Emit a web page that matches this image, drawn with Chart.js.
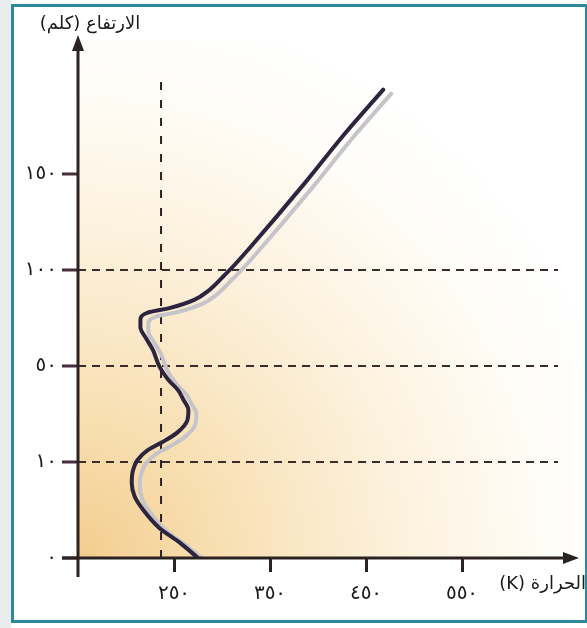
<!DOCTYPE html>
<html>
<head>
<meta charset="utf-8">
<script src="https://cdn.jsdelivr.net/npm/chart.js@4.4.1/dist/chart.umd.min.js"></script>
<style>
  html, body { margin: 0; padding: 0; background: #fff; }
  canvas { display: block; }
</style>
</head>
<body>
<canvas id="myChart" width="587" height="628"></canvas>
<script>
// temperature profile (altitude km / temperature K)
const altitudeKm = [0, 1.6, 3.1, 5, 6.4, 7.8, 9, 10.8, 15, 18.3, 22.1, 27.5, 31.7, 35.8, 40, 44.2, 49.6, 58.3, 63.5, 70.3, 74, 77.6, 80.2, 84.4, 89.6, 96.4, 102, 111.5, 145, 170.3, 193.8];
const temperatureK = [275, 256, 235, 218, 209, 206, 207, 212, 223, 238, 253, 264, 265, 260, 254, 244, 235, 228, 222, 215, 215, 222, 246, 271, 287, 301, 312, 329, 386, 427, 468];

// vertical dashed reference line
const refTempK = [236.5, 236.5];
const refAltKm = [0, 201];

const yTicks = [0, 10, 50, 100, 150];
const xTicks = [250, 350, 450, 550];
const dashedAlts = [10, 50, 100];

// the altitude axis is not linear: each labelled step gets the same height
const yBreaks = [0, 10, 50, 100, 150, 200];

function kmToUnits(v) {
  for (let i = 1; i < yBreaks.length; i++) {
    if (v <= yBreaks[i] || i === yBreaks.length - 1) {
      return (i - 1) + (v - yBreaks[i - 1]) / (yBreaks[i] - yBreaks[i - 1]);
    }
  }
}
function unitsToKm(u) {
  let i = Math.min(Math.max(Math.floor(u), 0), yBreaks.length - 2);
  return yBreaks[i] + (u - i) * (yBreaks[i + 1] - yBreaks[i]);
}

const Linear = Chart.LinearScale || Chart.registry.getScale('linear');
class BrokenScale extends Linear {
  getPixelForValue(v) {
    return this.getPixelForDecimal(kmToUnits(v) / kmToUnits(this.max));
  }
  getValueForPixel(p) {
    return unitsToKm(this.getDecimalForPixel(p) * kmToUnits(this.max));
  }
}
BrokenScale.id = 'broken';
BrokenScale.defaults = Linear.defaults;
Chart.register(BrokenScale);

const arabicDigits = '٠١٢٣٤٥٦٧٨٩';
function toArabic(n) {
  return String(n).replace(/\d/g, d => arabicDigits[d]);
}

const axisColor = '#2b2222';

const backdrop = {
  id: 'backdrop',
  beforeDraw(chart) {
    const ctx = chart.ctx;
    const a = chart.chartArea;
    ctx.save();
    ctx.fillStyle = '#ffffff';
    ctx.fillRect(0, 0, chart.width, chart.height);
    ctx.fillStyle = '#e9eded';
    ctx.fillRect(0, 0, 11, chart.height);
    // warm glow from lower left
    const g = ctx.createRadialGradient(a.left, a.bottom, 0, a.left, a.bottom, 560);
    g.addColorStop(0, '#f3cd8e');
    g.addColorStop(0.25, '#f8dfb2');
    g.addColorStop(0.55, '#fcf0da');
    g.addColorStop(0.85, '#fffdf8');
    g.addColorStop(1, '#ffffff');
    ctx.fillStyle = g;
    ctx.fillRect(a.left, 40, 586 - a.left, a.bottom - 40);
    // teal frame
    ctx.strokeStyle = '#2e8a9a';
    ctx.lineWidth = 3;
    ctx.strokeRect(12.5, 5.5, 574, 616);
    ctx.restore();
  }
};

const lineShadow = {
  id: 'lineShadow',
  beforeDatasetDraw(chart, args) {
    if (args.index !== 0) return;
    const ctx = chart.ctx;
    ctx.save();
    ctx.shadowColor = 'rgba(196,196,202,1)';
    ctx.shadowOffsetX = 8;
    ctx.shadowOffsetY = 4;
    ctx.shadowBlur = 0;
  },
  afterDatasetDraw(chart, args) {
    if (args.index !== 0) return;
    chart.ctx.restore();
  }
};

const axesAndTitles = {
  id: 'axesAndTitles',
  afterDraw(chart) {
    const ctx = chart.ctx;
    const a = chart.chartArea;
    const x0 = a.left, y0 = a.bottom;
    ctx.save();
    ctx.strokeStyle = axisColor;
    ctx.fillStyle = axisColor;
    ctx.lineWidth = 3;
    // y axis
    ctx.beginPath();
    ctx.moveTo(x0, y0 + 19);
    ctx.lineTo(x0, 50);
    ctx.stroke();
    ctx.beginPath();
    ctx.moveTo(x0, 35);
    ctx.lineTo(x0 - 6, 51);
    ctx.lineTo(x0 + 6, 51);
    ctx.closePath();
    ctx.fill();
    // x axis
    ctx.beginPath();
    ctx.moveTo(x0 - 16, y0);
    ctx.lineTo(565, y0);
    ctx.stroke();
    ctx.beginPath();
    ctx.moveTo(579, y0);
    ctx.lineTo(563, y0 - 6);
    ctx.lineTo(563, y0 + 6);
    ctx.closePath();
    ctx.fill();

    ctx.fillStyle = '#1e1a1a';
    ctx.font = '18px "DejaVu Sans"';
    ctx.direction = 'rtl';
    ctx.textBaseline = 'middle';
    ctx.textAlign = 'center';
    ctx.fillText('الارتفاع (كلم)', 90, 24);
    ctx.textAlign = 'right';
    ctx.fillText('الحرارة (K)', 586, 584);
    ctx.restore();
  }
};

const profile = altitudeKm.map((h, i) => ({ x: temperatureK[i], y: h }));
const refLine = refAltKm.map((h, i) => ({ x: refTempK[i], y: h }));

let myChart = document.getElementById('myChart').getContext('2d');

let profileChart = new Chart(myChart, {
  type: 'line',
  data: {
    datasets: [{
      label: 'الحرارة',
      data: profile,
      borderColor: '#2d2440',
      borderWidth: 4,
      pointRadius: 0,
      cubicInterpolationMode: 'monotone',
      borderCapStyle: 'round',
      borderJoinStyle: 'round',
      fill: false
    }, {
      label: 'ref',
      data: refLine,
      borderColor: axisColor,
      borderWidth: 2,
      borderDash: [8, 10],
      pointRadius: 0,
      tension: 0,
      fill: false
    }]
  },
  options: {
    indexAxis: 'y',
    responsive: false,
    animation: false,
    devicePixelRatio: 1,
    layout: { padding: { top: 47, right: 29, left: 0, bottom: 0 } },
    plugins: {
      legend: { display: false },
      tooltip: { enabled: false }
    },
    scales: {
      x: {
        type: 'linear',
        min: 150,
        max: 650,
        afterBuildTicks: s => { s.ticks = xTicks.map(v => ({ value: v })); },
        afterFit: s => { s.height = 70; },
        grid: {
          drawOnChartArea: false,
          tickLength: 14,
          tickWidth: 3,
          tickColor: axisColor
        },
        border: { display: false },
        ticks: {
          padding: 10,
          color: '#1e1a1a',
          font: { family: 'DejaVu Sans', size: 20 },
          callback: v => toArabic(v)
        }
      },
      y: {
        type: 'broken',
        min: 0,
        max: 216,
        bounds: 'data',
        afterBuildTicks: s => { s.ticks = yTicks.map(v => ({ value: v })); },
        afterFit: s => { s.width = 78; },
        grid: {
          color: c => (c.tick && dashedAlts.includes(c.tick.value)) ? '#3a2c2c' : 'rgba(0,0,0,0)',
          lineWidth: 2,
          borderDash: [8, 6],
          tickLength: 16,
          tickWidth: 3,
          tickColor: '#4a2c3c',
          tickBorderDash: []
        },
        border: { display: false, dash: [8, 6] },
        ticks: {
          padding: 5,
          color: '#1e1a1a',
          font: { family: 'DejaVu Sans', size: 20 },
          callback: v => toArabic(v)
        }
      }
    }
  },
  plugins: [backdrop, lineShadow, axesAndTitles]
});
</script>
</body>
</html>
